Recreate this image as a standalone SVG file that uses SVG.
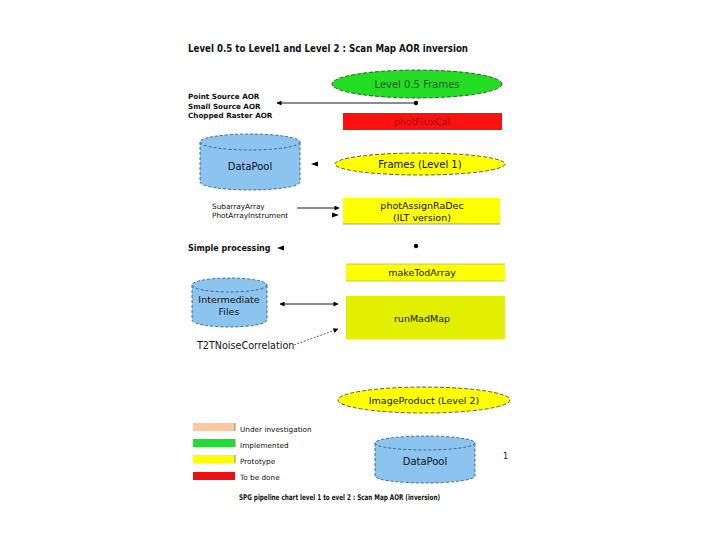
<svg xmlns="http://www.w3.org/2000/svg" width="720" height="540" viewBox="0 0 720 540">
<defs>
<style>
text{font-family:"DejaVu Sans","Liberation Sans",sans-serif;fill:#111}
.b{font-weight:bold}
.c{text-anchor:middle}
.cyl{fill:#8cc4f0;stroke:#2a4a6a;stroke-width:0.8;stroke-dasharray:3,2}
.dash{stroke:#333;stroke-width:0.8;stroke-dasharray:4,2}
.ln{stroke:#000;stroke-width:0.9;fill:none}
</style>
<marker id="ah" viewBox="0 0 10 10" refX="9" refY="5" markerWidth="7" markerHeight="5" orient="auto-start-reverse" markerUnits="userSpaceOnUse">
<path d="M0,0L10,5L0,10z" fill="#000"/>
</marker>
</defs>
<rect width="720" height="540" fill="#fff"/>
<text x="188" y="52" class="b" font-size="10.8" textLength="280" lengthAdjust="spacingAndGlyphs">Level 0.5 to Level1 and Level 2 : Scan Map AOR inversion</text>

<g id="level05">
<ellipse cx="417" cy="84" rx="85" ry="14" fill="#22dd22" class="dash"/>
<text x="417" y="88" class="c" font-size="10" style="fill:#2a5a2a">Level 0.5 Frames</text>
</g>
<g id="aor-text">
<text x="188" y="99" class="b" font-size="7.2">Point Source AOR</text>
<text x="188" y="108.5" class="b" font-size="7.2">Small Source AOR</text>
<text x="188" y="118" class="b" font-size="7.2">Chopped Raster AOR</text>
</g>
<g id="photFluxCal">
<rect x="343" y="113" width="159" height="17" fill="#ff1010"/>
<text x="422" y="125" class="c" font-size="9.5" style="fill:#a01010">photFluxCal</text>
</g>
<g id="datapool1">
<path d="M200,142 V182 A50,8 0 0 0 300,182 V142" class="cyl"/>
<ellipse cx="250" cy="142" rx="50" ry="8" class="cyl"/>
<text x="250" y="170" class="c" font-size="10">DataPool</text>
</g>
<g id="frames1">
<ellipse cx="420" cy="164" rx="85" ry="11" fill="#ffff00" class="dash"/>
<text x="420" y="168" class="c" font-size="10">Frames  (Level 1)</text>
</g>
<g id="subarray-text">
<text x="212" y="209" font-size="7.3">SubarrayArray</text>
<text x="212" y="218" font-size="7.3">PhotArrayInstrument</text>
</g>
<g id="photAssignRaDec">
<rect x="343" y="198" width="157" height="26" fill="#ffff00"/>
<line x1="343" y1="224" x2="500" y2="224" stroke="#888" stroke-width="0.8"/>
<text x="422" y="209" class="c" font-size="9.5">photAssignRaDec</text>
<text x="422" y="221" class="c" font-size="9.5">(ILT version)</text>
</g>
<g id="simple-text">
<text x="188" y="251" class="b" font-size="8">Simple processing</text>
</g>
<g id="makeTodArray">
<rect x="346" y="264" width="159" height="17" fill="#ffff00"/>
<line x1="346" y1="264" x2="505" y2="264" stroke="#999" stroke-width="0.6"/>
<line x1="346" y1="281" x2="505" y2="281" stroke="#999" stroke-width="0.6"/>
<text x="422" y="276" class="c" font-size="9.5">makeTodArray</text>
</g>
<g id="intermediate">
<path d="M192,285 V320 A37.5,7 0 0 0 267,320 V285" class="cyl"/>
<ellipse cx="229.5" cy="285" rx="37.5" ry="7" class="cyl"/>
<text x="229" y="303" class="c" font-size="9.5">Intermediate</text>
<text x="229" y="315" class="c" font-size="9.5">Files</text>
</g>
<g id="runMadMap">
<rect x="346" y="296" width="159" height="43" fill="#e2f000"/>
<text x="422" y="322" class="c" font-size="9.5">runMadMap</text>
</g>
<g id="t2t-text">
<text x="197" y="349" font-size="9.6">T2TNoiseCorrelation</text>
</g>
<g id="imageProduct">
<ellipse cx="424" cy="400" rx="86" ry="13" fill="#ffff00" class="dash"/>
<text x="424" y="404" class="c" font-size="9.5">ImageProduct (Level 2)</text>
</g>
<g id="legend">
<rect x="193" y="423" width="42" height="8" fill="#fcc8a0"/>
<rect x="193" y="439" width="42" height="8" fill="#22dd33"/>
<rect x="193" y="455" width="42" height="8" fill="#ffff00"/>
<rect x="193" y="472" width="42" height="8" fill="#ee1010"/>
<line x1="235" y1="423" x2="235" y2="431" stroke="#888"/>
<line x1="235" y1="439" x2="235" y2="447" stroke="#888"/>
<line x1="235" y1="455" x2="235" y2="463" stroke="#888"/>
<text x="240" y="432" font-size="7.3">Under investigation</text>
<text x="240" y="447.5" font-size="7.3">Implemented</text>
<text x="240" y="464" font-size="7.3">Prototype</text>
<text x="240" y="480" font-size="7.3">To be done</text>
</g>
<g id="datapool2">
<path d="M375,443 V476 A50,7 0 0 0 475,476 V443" class="cyl"/>
<ellipse cx="425" cy="443" rx="50" ry="7" class="cyl"/>
<text x="425" y="465" class="c" font-size="10">DataPool</text>
</g>
<text x="503" y="459" font-size="8">1</text>
<text x="239" y="500" class="b" font-size="7.8" textLength="201" lengthAdjust="spacingAndGlyphs">SPG pipeline chart level 1 to evel 2 : Scan Map AOR (inversion)</text>

<g id="connectors">
<circle cx="416" cy="103" r="2.2" fill="#000"/>
<line x1="415" y1="103" x2="277" y2="103" class="ln" marker-end="url(#ah)"/>
<path d="M318,161.5 L311,164 L318,166.5z" fill="#000"/>
<line x1="297" y1="208" x2="339" y2="208" class="ln" marker-end="url(#ah)"/>
<path d="M332,212.5 L339,215 L332,217.5z" fill="#000"/>
<path d="M284,245.5 L277,248 L284,250.5z" fill="#000"/>
<circle cx="416" cy="246" r="2.2" fill="#000"/>
<line x1="280" y1="304" x2="338" y2="304" class="ln" marker-start="url(#ah)" marker-end="url(#ah)"/>
<line x1="294" y1="345" x2="338" y2="329" stroke="#333" stroke-width="0.8" stroke-dasharray="2,1.5" marker-end="url(#ah)"/>
</g>
</svg>
